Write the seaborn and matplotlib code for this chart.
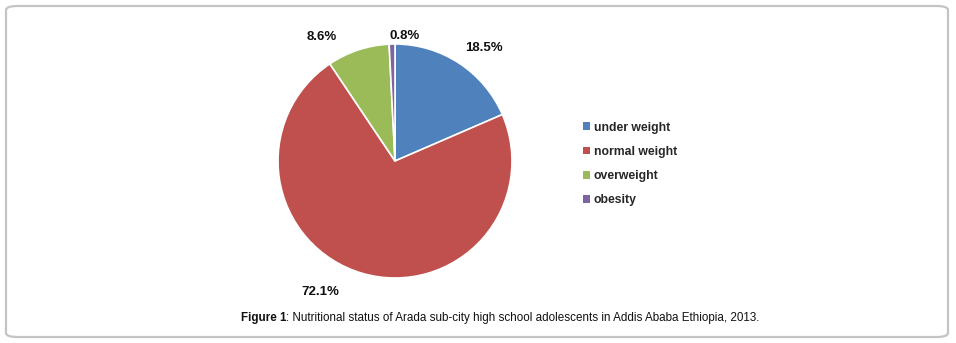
import matplotlib
matplotlib.use("Agg")
import matplotlib.pyplot as plt
from matplotlib.patches import FancyBboxPatch, Patch
import seaborn as sns

# data
categories = ["under weight", "normal weight", "overweight", "obesity"]
percent = [18.5, 72.1, 8.6, 0.8]
colors = ["#4F81BD", "#C0504D", "#9BBB59", "#8064A2"]
caption_bold = "Figure 1"
caption_rest = ": Nutritional status of Arada sub-city high school adolescents in Addis Ababa Ethiopia, 2013."

sns.set_theme(style="white")
plt.rcParams["font.family"] = ["Liberation Sans", "DejaVu Sans"]

W, H = 956, 343
fig = plt.figure(figsize=(W / 100, H / 100), dpi=100)

# outer rounded frame (behind everything)
frame = FancyBboxPatch((6 / W, 6 / H), 942 / W, 331 / H,
                       boxstyle="round,pad=0,rounding_size=0.012",
                       transform=fig.transFigure, facecolor="none",
                       edgecolor="#c4c4c4", linewidth=1.6, zorder=-5)
fig.patches.append(frame)

# pie axes, centre ~ (395, 161) px, radius ~117 px
r_px = 117
lim = 1.4
cx, cy = 395, 161
ax = fig.add_axes([(cx - lim * r_px) / W, (H - cy - lim * r_px) / H,
                   2 * lim * r_px / W, 2 * lim * r_px / H])

palette = sns.color_palette(colors)
wedges, texts = ax.pie(percent, colors=palette, startangle=90, counterclock=False,
                       labels=[f"{p}%" for p in percent], labeldistance=1.2,
                       wedgeprops=dict(edgecolor="white", linewidth=1.2),
                       textprops=dict(fontsize=9.5, fontweight="bold", color="#111111"))
# small nudges of the label positions to mimic the original placement
nudges = [(0.10, -0.035), (-0.30, 0.03), (-0.25, -0.08), (0.11, -0.13)]
for t, (dx, dy) in zip(texts, nudges):
    x, y = t.get_position()
    t.set_position((x + dx, y + dy))
    t.set_ha("center")
    t.set_va("center")
ax.set_xlim(-lim, lim)
ax.set_ylim(-lim, lim)
ax.set_aspect("equal")
ax.axis("off")

handles = [Patch(facecolor=c, edgecolor="none") for c in palette]
fig.legend(handles, categories, loc="center left", bbox_to_anchor=(572 / W, 1 - 164 / H),
           frameon=False, handlelength=0.6, handleheight=0.6, handletextpad=0.3,
           labelspacing=1.0, prop=dict(size=8.8, weight="bold"))

# caption: bold "Figure 1" followed by regular text, centred as a whole
cap_y = 1 - 318 / H
t1 = fig.text(0, cap_y, caption_bold, ha="left", va="center", fontsize=8.4,
              fontweight="bold", color="#111111")
t2 = fig.text(0, cap_y, caption_rest, ha="left", va="center", fontsize=8.4,
              color="#111111")
fig.canvas.draw()
r = fig.canvas.get_renderer()
w1 = t1.get_window_extent(r).width
w2 = t2.get_window_extent(r).width
x0 = 500 - (w1 + w2) / 2
t1.set_x(x0 / W)
t2.set_x((x0 + w1) / W)

fig.savefig("out.png", dpi=100)
